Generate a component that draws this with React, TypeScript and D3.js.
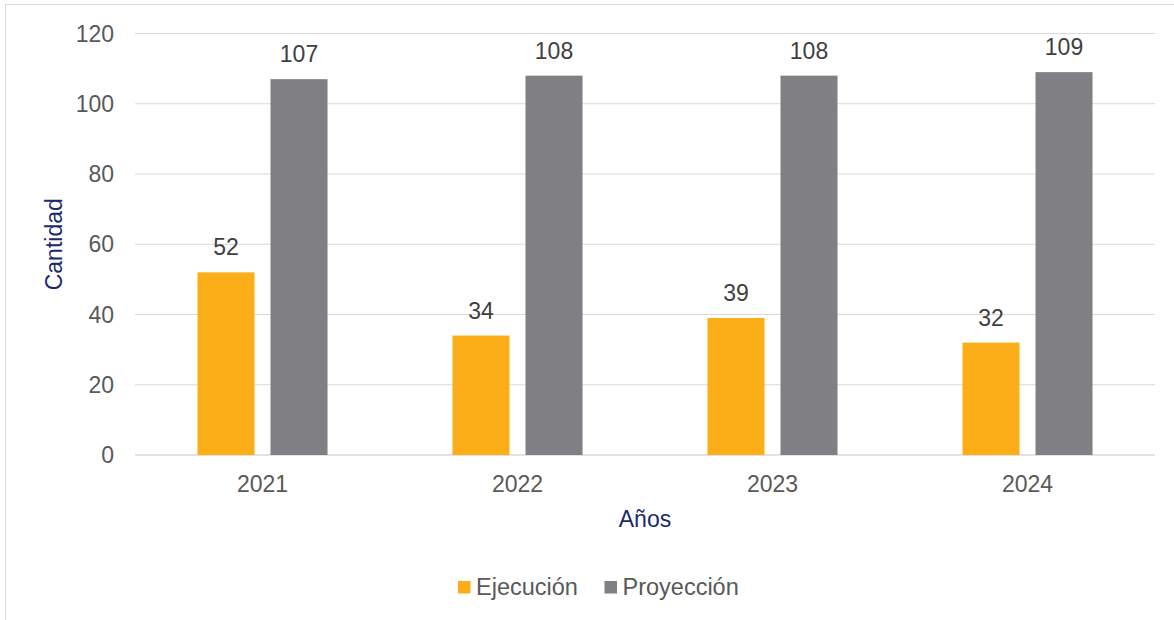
import * as d3 from "d3";

const YEARS = ["2021", "2022", "2023", "2024"];
const SERIES = ["Ejecución", "Proyección"];
const EJECUCION = [52, 34, 39, 32];
const PROYECCION = [107, 108, 108, 109];
const Y_TICKS = [0, 20, 40, 60, 80, 100, 120];

const COLORS: Record<string, string> = {
  "Ejecución": "#FBAE17",
  "Proyección": "#808084",
};
const FONT = "'Liberation Sans', Arial, sans-serif";
const WIDTH = 1174;
const HEIGHT = 620;
const PLOT = { left: 135, right: 1155, top: 33.5, bottom: 455 };
const FS = 23;

export default function App() {
  const x = d3
    .scaleBand<string>()
    .domain(YEARS)
    .range([PLOT.left, PLOT.right])
    .paddingInner(0.49)
    .paddingOuter(0.245);
  const xInner = d3
    .scaleBand<string>()
    .domain(SERIES)
    .range([0, x.bandwidth()])
    .paddingInner(16 / 73);
  const y = d3.scaleLinear().domain([0, 120]).range([PLOT.bottom, PLOT.top]);

  const values: Record<string, number[]> = {
    "Ejecución": EJECUCION,
    "Proyección": PROYECCION,
  };

  return (
    <svg
      width={WIDTH}
      height={HEIGHT}
      style={{ position: "absolute", left: 0, top: 0, background: "#fff" }}
      fontFamily={FONT}
    >
      <rect x={5.5} y={4.5} width={1300} height={800} fill="#fff" stroke="#d9d9d9" strokeWidth={1} />

      {/* grid + y labels */}
      {Y_TICKS.map((t) => (
        <g key={t}>
          <line
            x1={PLOT.left}
            x2={PLOT.right}
            y1={y(t)}
            y2={y(t)}
            stroke="#d9d9d9"
            strokeWidth={t === 0 ? 1.5 : 1}
          />
          <text
            x={114}
            y={y(t)}
            dy="0.35em"
            textAnchor="end"
            fontSize={FS}
            fill="#595959"
          >
            {t}
          </text>
        </g>
      ))}

      {/* bars */}
      {YEARS.map((yr, i) => (
        <g key={yr} transform={`translate(${x(yr)},0)`}>
          {SERIES.map((s) => {
            const v = values[s][i];
            const bx = xInner(s)!;
            return (
              <g key={s}>
                <rect
                  x={bx}
                  y={y(v)}
                  width={xInner.bandwidth()}
                  height={y(0) - y(v)}
                  fill={COLORS[s]}
                />
                <text
                  x={bx + xInner.bandwidth() / 2}
                  y={y(v) - 17}
                  textAnchor="middle"
                  fontSize={FS}
                  fill="#404040"
                >
                  {v}
                </text>
              </g>
            );
          })}
          <text
            x={x.bandwidth() / 2}
            y={492}
            textAnchor="middle"
            fontSize={FS}
            fill="#595959"
          >
            {yr}
          </text>
        </g>
      ))}

      {/* axis titles */}
      <text
        x={(PLOT.left + PLOT.right) / 2}
        y={527}
        textAnchor="middle"
        fontSize={FS}
        fill="#1a2a6c"
      >
        Años
      </text>
      <text
        transform={`translate(62,${(PLOT.top + PLOT.bottom) / 2}) rotate(-90)`}
        textAnchor="middle"
        fontSize={FS}
        fill="#1a2a6c"
      >
        Cantidad
      </text>

      {/* legend */}
      {SERIES.map((s, i) => {
        const lx = i === 0 ? 458 : 604.5;
        return (
          <g key={s} transform={`translate(${lx},581)`}>
            <rect width={12.5} height={12.5} fill={COLORS[s]} />
            <text x={18} y={14} fontSize={23.5} fill="#595959">
              {s}
            </text>
          </g>
        );
      })}
    </svg>
  );
}
